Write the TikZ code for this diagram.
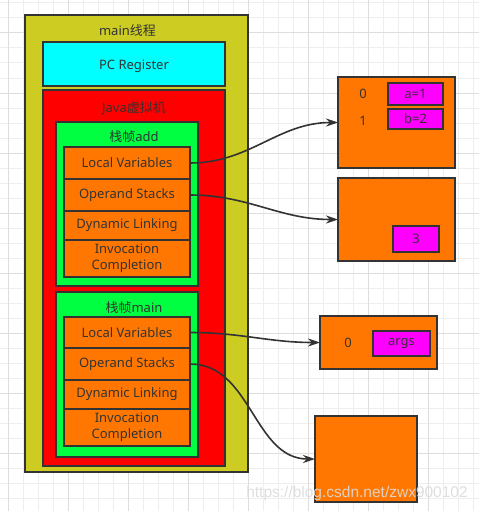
\documentclass[tikz,border=0pt]{standalone}
\usepackage{fontspec}
\setmainfont{Noto Sans}
\newfontfamily\cjk{Noto Sans CJK SC}
\newfontfamily\wmfont{Liberation Sans}
\usepackage{tikz}
\usetikzlibrary{positioning,arrows.meta}

\definecolor{linegray}{HTML}{333333}
\definecolor{threadyellow}{HTML}{CCCC22}
\definecolor{pccyan}{HTML}{00FFFF}
\definecolor{jvmred}{HTML}{FF0000}
\definecolor{framegreen}{HTML}{00FF40}
\definecolor{cellorange}{HTML}{FF7700}
\definecolor{slotpink}{HTML}{FF00FF}
\definecolor{gridminor}{HTML}{EEEEEE}
\definecolor{gridmajor}{HTML}{DEDEDE}

\begin{document}
\begin{tikzpicture}[x=1pt, y=-1pt, node distance=0pt,
    box/.style={draw=linegray, line width=2pt, rectangle, anchor=north west,
      inner sep=0pt, outer sep=0pt, text=linegray,
      font=\fontsize{13}{15.5}\selectfont},
    cell/.style={box, fill=cellorange, minimum width=126pt, align=center},
    slot/.style={box, fill=slotpink},
    title/.style={inner sep=0pt, text=linegray, font=\fontsize{13}{15.5}\selectfont},
    ref/.style={draw=linegray, line width=1.6pt, -{Stealth[length=12pt,width=8pt]}}]
  \useasboundingbox (0,0) rectangle (479,511);
  \fill[white] (0,0) rectangle (479,511);
  % background grid
  \foreach \gx in {8,23,...,478} \draw[gridminor, line width=1pt] (\gx,0) -- (\gx,511);
  \foreach \gy in {3,18,...,510} \draw[gridminor, line width=1pt] (0,\gy) -- (479,\gy);
  \foreach \gx in {8,68,...,478} \draw[gridmajor, line width=1pt] (\gx,0) -- (\gx,511);
  \foreach \gy in {33,93,...,510} \draw[gridmajor, line width=1pt] (0,\gy) -- (479,\gy);

  % thread
  \node[box, fill=threadyellow, minimum width=223pt, minimum height=457pt] (thread) at (25,15) {};
  \node[title] (threadname) at (127.5,31) {main{\cjk 线程}};
  \node[box, fill=pccyan, minimum width=182pt, minimum height=44pt] (pcreg) at (43,42) {};
  \node[title] at ([yshift=-2pt]pcreg.center) {PC Register};
  \node[box, fill=jvmred, minimum width=182pt, minimum height=376pt] (jvm) at (43,90) {};
  \node[title] (jvmname) at (134,108) {Java{\cjk 虚拟机}};

  % frame add
  \node[box, fill=framegreen, minimum width=142pt, minimum height=164pt] (addframe) at (56,122) {};
  \node[title] (addname) at (134,137) {{\cjk 栈帧}add};
  \node[cell, minimum height=32pt] (addlv) at (64,147) {Local Variables};
  \node[cell, minimum height=32pt, below=of addlv] (addos) {Operand Stacks};
  \node[cell, minimum height=29pt, below=of addos] (adddl) {Dynamic Linking};
  \node[cell, minimum height=37pt, below=of adddl] (addic) {Invocation\\Completion};

  % frame main
  \node[box, fill=framegreen, minimum width=142pt, minimum height=165pt] (mainframe) at (56,292) {};
  \node[title] (mainname) at (134,308) {{\cjk 栈帧}main};
  \node[cell, minimum height=31pt] (mainlv) at (64,317) {Local Variables};
  \node[cell, minimum height=32pt, below=of mainlv] (mainos) {Operand Stacks};
  \node[cell, minimum height=29pt, below=of mainos] (maindl) {Dynamic Linking};
  \node[cell, minimum height=37pt, below=of maindl] (mainic) {Invocation\\Completion};

  % tables
  \node[box, fill=cellorange, minimum width=117pt, minimum height=91pt] (addvars) at (338,77) {};
  \node[title] (idxa) at (363,94) {0};
  \node[title] (idxb) at (363,121) {1};
  \node[slot, minimum width=55pt, minimum height=22pt] (slota) at (388,83) {a=1};
  \node[slot, minimum width=55pt, minimum height=20pt] (slotb) at (388,109) {b=2};
  \node[box, fill=cellorange, minimum width=117pt, minimum height=83pt] (addstack) at (338,178) {};
  \node[slot, minimum width=46pt, minimum height=26pt] (slotthree) at (393,226) {3};
  \node[box, fill=cellorange, minimum width=117pt, minimum height=53pt] (mainvars) at (320,316) {};
  \node[title] (idxargs) at (348,343) {0};
  \node[slot, minimum width=57pt, minimum height=25pt] (slotargs) at (373,331) {args};
  \node[box, fill=cellorange, minimum width=102pt, minimum height=86pt] (mainstack) at (315,416) {};

  \draw[ref] (addlv.east) to[out=0, in=180] (addvars.west);
  \draw[ref] (addos.east) to[out=0, in=180] (addstack.west);
  \draw[ref] (mainlv.east) to[out=0, in=180] (mainvars.west);
  \draw[ref] (mainos.east) to[out=0, in=180] (mainstack.west);

  \node[text=black!14, opacity=0.9, inner sep=0pt, font=\wmfont\fontsize{15.5}{15.5}\selectfont] (mark) at (357,493) {https://blog.csdn.net/zwx900102};
\end{tikzpicture}
\end{document}
